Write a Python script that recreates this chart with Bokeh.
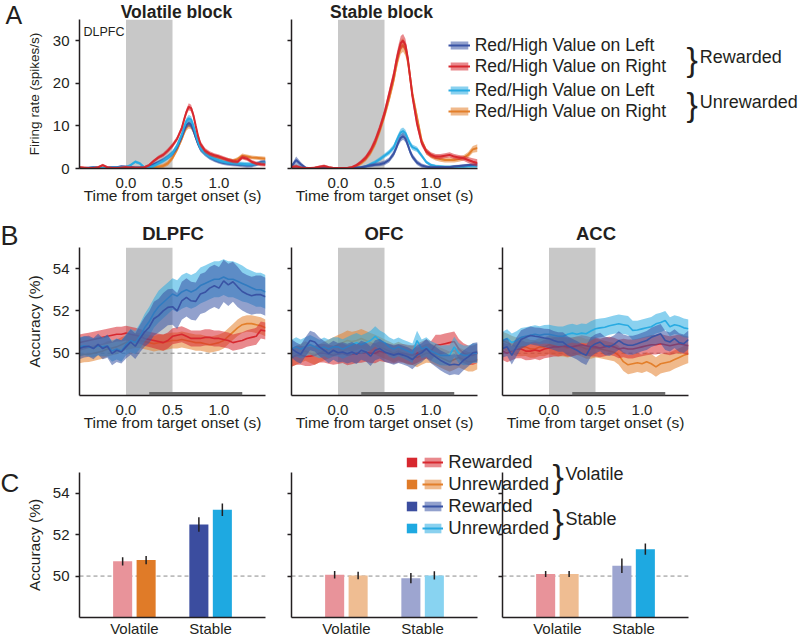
from bokeh.plotting import figure
from bokeh.layouts import row, column
from bokeh.models import (Range1d, FactorRange, ColumnDataSource, Label, Legend,
                          LegendItem, Span, BoxAnnotation, FixedTicker,
                          NumeralTickFormatter)
from bokeh.transform import dodge
from bokeh.embed import file_html
from bokeh.resources import INLINE

# ---------------------------------------------------------------- data
epoch = [0.0, 0.5]          # target epoch (grey band)
sig_window = [0.25, 1.25]   # analysis window (dark bar)
chance = 50

# ---- A: firing rates (spikes/s), DLPFC example neuron
t_a = [-0.5, -0.45, -0.4, -0.35, -0.3, -0.25, -0.2, -0.15, -0.1, -0.05,
       0.0, 0.05, 0.1, 0.15, 0.2, 0.25, 0.3, 0.35, 0.4, 0.45,
       0.5, 0.55, 0.6, 0.625, 0.65, 0.675, 0.7, 0.725, 0.75, 0.775,
       0.8, 0.85, 0.9, 0.95, 1.0, 1.05, 1.1, 1.15, 1.2, 1.25,
       1.3, 1.35, 1.4, 1.45, 1.5]
vol_rew_left = [0.1, 0.1, 0.2, 0.3, 0.2, 0.1, 0.2, 0.3, 0.3, 0.5,
                0.4, 0.3, 0.2, 0.2, 0.3, 0.5, 1.0, 1.5, 2.0, 2.7,
                3.5, 5.0, 7.5, 9.0, 10.2, 10.7, 10.3, 9.0, 7.3, 5.8,
                4.6, 3.5, 2.6, 2.0, 1.6, 1.3, 1.1, 1.0, 0.9, 0.8,
                0.7, 0.7, 1.0, 1.5, 1.6]
vol_rew_right = [0.3, 0.2, 0.1, 0.1, 0.3, 0.8, 0.3, 0.1, 0.1, 0.2,
                 0.3, 0.2, 0.1, 0.1, 0.3, 0.8, 1.8, 2.6, 3.2, 4.2,
                 5.4, 7.0, 9.5, 11.5, 13.3, 14.5, 14.2, 12.5, 10.0, 7.6,
                 5.8, 4.2, 3.5, 3.1, 2.8, 2.4, 2.0, 1.7, 1.6, 2.6,
                 2.3, 1.6, 1.2, 1.0, 0.9]
vol_unrew_left = [0.1, 0.1, 0.1, 0.2, 0.2, 0.1, 0.1, 0.2, 0.2, 0.3,
                  0.3, 0.8, 1.6, 1.2, 0.2, 0.2, 0.6, 1.2, 1.8, 2.6,
                  3.6, 5.4, 8.0, 9.8, 11.2, 11.8, 11.5, 10.0, 8.0, 6.2,
                  4.8, 3.6, 2.8, 2.3, 1.9, 1.6, 1.4, 1.3, 1.2, 1.1,
                  1.0, 1.0, 1.1, 1.2, 1.3]
vol_unrew_right = [0.2, 0.1, 0.1, 0.1, 0.1, 0.2, 0.1, 0.1, 0.1, 0.1,
                   0.1, 0.1, 0.1, 0.1, 0.1, 0.2, 0.3, 0.4, 0.6, 1.2,
                   2.5, 4.5, 7.0, 8.5, 9.7, 10.2, 10.0, 9.0, 7.5, 6.0,
                   4.8, 3.8, 3.2, 2.8, 2.5, 2.2, 2.0, 1.8, 2.2, 3.0,
                   2.8, 2.6, 2.5, 2.4, 2.3]
stb_rew_left = [0.5, 2.0, 1.0, 0.2, 0.1, 0.1, 0.1, 0.1, 0.1, 0.1,
                0.1, 0.1, 0.1, 0.1, 0.2, 0.3, 0.5, 0.7, 0.9, 1.0,
                1.3, 2.0, 3.5, 4.8, 6.2, 7.2, 7.6, 7.0, 5.6, 4.0,
                2.8, 1.4, 0.7, 0.4, 0.3, 0.3, 0.3, 0.3, 0.3, 0.5,
                0.6, 0.7, 0.8, 0.9, 1.0]
stb_rew_right = [0.3, 0.5, 0.2, 0.1, 0.1, 0.2, 0.4, 0.6, 0.3, 0.1,
                 0.1, 0.1, 0.1, 0.3, 0.8, 1.6, 2.6, 4.2, 6.5, 9.5,
                 13.0, 17.5, 22.0, 25.0, 27.5, 29.5, 30.0, 29.0, 26.0, 21.5,
                 17.0, 10.5, 6.0, 4.0, 3.2, 2.8, 2.8, 3.0, 3.2, 2.8,
                 2.6, 2.4, 2.0, 1.6, 1.3]
stb_unrew_left = [0.2, 0.3, 0.2, 0.1, 0.1, 0.1, 0.1, 0.1, 0.1, 0.1,
                  0.1, 0.1, 0.1, 0.1, 0.1, 0.2, 0.5, 1.0, 1.5, 2.2,
                  3.0, 3.8, 5.0, 6.3, 7.5, 8.5, 8.8, 8.3, 7.0, 5.8,
                  5.0, 4.5, 3.0, 1.5, 0.8, 0.6, 0.5, 0.4, 0.4, 0.4,
                  0.4, 0.4, 0.5, 0.5, 0.5]
stb_unrew_right = [0.2, 0.3, 0.2, 0.1, 0.1, 0.1, 0.2, 0.2, 0.1, 0.1,
                   0.1, 0.1, 0.1, 0.2, 0.6, 1.3, 2.3, 3.8, 6.0, 9.0,
                   12.5, 16.5, 21.0, 24.0, 26.5, 28.5, 29.0, 28.0, 25.5, 21.5,
                   17.5, 12.0, 6.5, 4.0, 3.0, 2.5, 2.2, 2.0, 2.0, 2.0,
                   2.2, 2.5, 3.2, 4.5, 4.8]
sem_a_vol = [0.25, 0.25, 0.2, 0.2, 0.25, 0.3, 0.25, 0.2, 0.2, 0.25,
             0.3, 0.3, 0.35, 0.35, 0.3, 0.35, 0.4, 0.45, 0.5, 0.55,
             0.6, 0.6, 0.65, 0.7, 0.75, 0.8, 0.8, 0.8, 0.75, 0.7,
             0.65, 0.6, 0.55, 0.5, 0.5, 0.45, 0.45, 0.45, 0.45, 0.5,
             0.5, 0.45, 0.45, 0.45, 0.45]
sem_a_stb_right = [0.3, 0.5, 0.35, 0.25, 0.25, 0.25, 0.3, 0.35, 0.3, 0.25,
                   0.25, 0.25, 0.25, 0.3, 0.35, 0.45, 0.6, 0.75, 0.9, 1.0,
                   1.1, 1.2, 1.3, 1.4, 1.5, 1.6, 1.6, 1.5, 1.4, 1.3,
                   1.2, 1.0, 0.8, 0.7, 0.6, 0.6, 0.6, 0.6, 0.6, 0.6,
                   0.6, 0.6, 0.7, 0.8, 0.9]
sem_a_stb_left = [0.3, 0.8, 0.5, 0.25, 0.2, 0.2, 0.2, 0.2, 0.2, 0.2,
                  0.2, 0.2, 0.2, 0.25, 0.25, 0.3, 0.35, 0.4, 0.45, 0.5,
                  0.55, 0.6, 0.7, 0.75, 0.8, 0.85, 0.85, 0.8, 0.75, 0.7,
                  0.65, 0.6, 0.5, 0.4, 0.35, 0.3, 0.3, 0.3, 0.3, 0.3,
                  0.3, 0.3, 0.3, 0.3, 0.3]

# ---- B: decoding accuracy (%) over time
t_b = [-0.5, -0.45, -0.4, -0.35, -0.3, -0.25, -0.2, -0.15, -0.1, -0.05,
       0.0, 0.05, 0.1, 0.15, 0.2, 0.25, 0.3, 0.35, 0.4, 0.45,
       0.5, 0.55, 0.6, 0.65, 0.7, 0.75, 0.8, 0.85, 0.9, 0.95,
       1.0, 1.05, 1.1, 1.15, 1.2, 1.25, 1.3, 1.35, 1.4, 1.45, 1.5]
dl_stb_rew = [50.22, 50.30, 50.33, 50.22, 50.42, 50.22, 50.33, 49.98, 50.14, 50.06,
              50.30, 50.53, 50.33, 50.69, 51.00, 51.23, 51.63, 51.78, 52.00, 52.17,
              52.20, 52.00, 52.48, 52.64, 52.48, 52.45, 52.80, 52.88, 53.08, 53.19,
              53.08, 53.42, 53.23, 53.38, 53.14, 52.92, 52.80, 52.72, 52.77, 52.77,
              52.67]
dl_stb_unrew = [50.3, 50.35, 50.3, 50.25, 50.35, 50.3, 50.35, 50.1, 50.2, 50.1,
                50.4, 50.6, 50.5, 50.8, 51.2, 51.5, 51.9, 52.2, 52.4, 52.6,
                52.8, 52.7, 52.9, 53.0, 52.9, 53.0, 53.2, 53.3, 53.4, 53.5,
                53.5, 53.6, 53.5, 53.5, 53.4, 53.3, 53.2, 53.1, 53.0, 53.0,
                52.9]
dl_vol_rew = [50.5, 50.55, 50.6, 50.65, 50.7, 50.75, 50.8, 50.85, 50.9, 50.9,
              50.95, 50.9, 50.85, 50.8, 50.7, 50.65, 50.6, 50.55, 50.5, 50.6,
              50.8, 50.85, 50.9, 50.8, 50.7, 50.7, 50.7, 50.75, 50.75, 50.7,
              50.7, 50.65, 50.6, 50.5, 50.55, 50.6, 50.7, 50.75, 50.8, 51.1,
              51.05]
dl_vol_unrew = [49.9, 49.95, 49.95, 50.0, 50.05, 50.1, 50.2, 50.25, 50.3, 50.4,
                50.5, 50.55, 50.6, 50.6, 50.55, 50.5, 50.45, 50.5, 50.5, 50.55,
                50.6, 50.6, 50.65, 50.6, 50.55, 50.5, 50.5, 50.45, 50.4, 50.45,
                50.5, 50.6, 50.8, 51.0, 51.2, 51.35, 51.4, 51.4, 51.35, 51.3,
                51.2]
sem_dl_stb_rew = [0.5, 0.5, 0.5, 0.5, 0.5, 0.5, 0.55, 0.55, 0.55, 0.55,
                  0.55, 0.6, 0.6, 0.65, 0.7, 0.75, 0.8, 0.8, 0.85, 0.85,
                  0.85, 0.85, 0.9, 0.9, 0.9, 0.9, 0.95, 0.95, 1.0, 1.0,
                  1.0, 1.0, 1.0, 0.95, 0.95, 0.9, 0.9, 0.9, 0.9, 0.9, 0.9]
sem_dl_stb_unrew = [0.45, 0.45, 0.45, 0.45, 0.45, 0.45, 0.5, 0.5, 0.5, 0.5,
                    0.5, 0.55, 0.55, 0.6, 0.65, 0.7, 0.7, 0.75, 0.75, 0.75,
                    0.75, 0.75, 0.8, 0.8, 0.8, 0.8, 0.85, 0.85, 0.85, 0.85,
                    0.85, 0.85, 0.85, 0.85, 0.85, 0.85, 0.8, 0.8, 0.8, 0.8, 0.8]
sem_dl_vol = [0.38, 0.38, 0.37, 0.37, 0.36, 0.36, 0.36, 0.35, 0.35, 0.35,
              0.35, 0.35, 0.35, 0.35, 0.36, 0.36, 0.37, 0.37, 0.38, 0.38,
              0.38, 0.38, 0.38, 0.38, 0.38, 0.38, 0.38, 0.38, 0.38, 0.38,
              0.38, 0.38, 0.38, 0.38, 0.39, 0.39, 0.39, 0.4, 0.4, 0.4, 0.4]

ofc_stb_rew = [50.22, 50.06, 49.95, 50.3, 50.6, 50.53, 50.3, 50.14, 49.98, 50.14,
               50.02, 50.06, 49.98, 50.06, 49.95, 50.14, 50.06, 49.86, 50.14, 50.22,
               50.06, 49.98, 49.91, 49.98, 49.91, 49.83, 49.7, 49.91, 50.02, 50.22,
               49.98, 49.83, 49.67, 49.55, 49.44, 49.48, 49.44, 49.67, 49.83, 50.02,
               50.06]
ofc_stb_unrew = [50.2, 50.3, 50.2, 50.3, 50.4, 50.3, 50.2, 50.3, 50.2, 50.3,
                 50.3, 50.2, 50.3, 50.4, 50.5, 50.4, 50.5, 50.6, 50.8, 50.6,
                 50.5, 50.3, 50.2, 50.3, 50.2, 50.1, 50.0, 50.6, 50.2, 50.3,
                 50.1, 50.0, 49.9, 49.9, 49.9, 50.3, 50.0, 49.9, 49.9, 50.0,
                 50.0]
ofc_vol_rew = [49.8, 49.9, 49.9, 49.85, 49.86, 49.9, 50.0, 50.0, 49.95, 49.9,
               49.95, 50.0, 49.9, 49.95, 50.0, 50.0, 50.05, 50.0, 50.0, 50.1,
               50.05, 50.0, 49.95, 50.0, 50.0, 49.95, 49.9, 50.0, 50.1, 50.2,
               50.1, 50.4, 50.4, 50.45, 50.5, 50.55, 50.2, 50.0, 49.9, 49.9,
               50.0]
ofc_vol_unrew = [49.8, 49.9, 50.0, 50.1, 50.0, 49.9, 50.0, 50.1, 50.2, 50.3,
                 50.4, 50.5, 50.6, 50.55, 50.6, 50.7, 50.6, 50.5, 50.4, 50.3,
                 50.2, 50.1, 50.0, 50.1, 50.0, 49.9, 49.9, 49.8, 49.9, 50.0,
                 50.0, 49.9, 49.8, 49.7, 49.6, 49.7, 49.8, 49.7, 49.6, 49.6,
                 49.7]
sem_ofc = [0.44, 0.45, 0.45, 0.46, 0.46, 0.45, 0.44, 0.44, 0.45, 0.45,
           0.46, 0.46, 0.47, 0.47, 0.46, 0.45, 0.45, 0.46, 0.47, 0.47,
           0.46, 0.45, 0.45, 0.44, 0.44, 0.45, 0.46, 0.46, 0.45, 0.45,
           0.46, 0.47, 0.47, 0.48, 0.48, 0.48, 0.47, 0.47, 0.46, 0.46, 0.46]

acc_stb_rew = [50.22, 50.3, 49.9, 50.3, 50.65, 50.75, 50.84, 50.8, 50.77, 50.72,
               50.69, 50.6, 50.53, 50.53, 50.35, 50.25, 50.14, 50.0, 49.9, 50.3,
               50.45, 50.53, 50.35, 50.3, 50.42, 50.6, 50.45, 50.38, 50.38, 50.45,
               50.53, 50.6, 50.75, 50.84, 50.92, 50.6, 50.53, 50.69, 50.5, 50.45,
               50.64]
acc_stb_unrew = [50.6, 50.7, 50.5, 50.6, 50.75, 50.8, 50.85, 50.9, 50.85, 50.9,
                 50.9, 50.85, 50.8, 50.8, 50.9, 50.95, 50.9, 50.95, 50.92, 51.05,
                 51.16, 51.2, 51.23, 51.3, 51.35, 51.39, 51.35, 51.31, 51.08, 51.1,
                 51.15, 51.2, 51.25, 51.39, 51.45, 51.55, 51.25, 51.35, 51.3, 51.2,
                 51.16]
acc_vol_rew = [50.1, 50.0, 50.1, 50.2, 50.2, 50.1, 50.1, 50.15, 50.1, 50.2,
               50.25, 50.3, 50.3, 50.35, 50.3, 50.3, 50.35, 50.4, 50.35, 50.3,
               50.3, 50.25, 50.3, 50.35, 50.3, 50.2, 50.25, 50.2, 50.2, 50.25,
               50.3, 50.35, 50.4, 50.4, 50.45, 50.4, 50.35, 50.4, 50.45, 50.4,
               50.35]
acc_vol_unrew = [50.6, 50.5, 50.4, 50.3, 50.3, 50.3, 50.2, 50.2, 50.3, 50.3,
                 50.4, 50.35, 50.3, 50.3, 50.25, 50.3, 50.35, 50.3, 50.2, 50.2,
                 50.25, 50.2, 50.15, 50.1, 50.05, 49.9, 49.6, 49.45, 49.5, 49.55,
                 49.5, 49.6, 49.5, 49.35, 49.5, 49.55, 49.6, 49.7, 49.8, 49.9,
                 49.98]
sem_acc = [0.42, 0.43, 0.43, 0.44, 0.44, 0.43, 0.42, 0.42, 0.43, 0.44,
           0.45, 0.45, 0.46, 0.46, 0.45, 0.44, 0.44, 0.45, 0.46, 0.46,
           0.45, 0.44, 0.44, 0.43, 0.43, 0.44, 0.44, 0.45, 0.45, 0.44,
           0.44, 0.45, 0.46, 0.46, 0.46, 0.45, 0.45, 0.44, 0.44, 0.44, 0.44]

# ---- C: mean accuracy (%) in the analysis window
blocks = ["Volatile", "Stable"]
dl_rew_mean, dl_rew_sem = [50.71, 52.49], [0.2, 0.35]
dl_unrew_mean, dl_unrew_sem = [50.77, 53.2], [0.2, 0.3]
ofc_rew_mean, ofc_rew_sem = [50.06, 49.9], [0.18, 0.25]
ofc_unrew_mean, ofc_unrew_sem = [50.03, 50.03], [0.18, 0.2]
acc_rew_mean, acc_rew_sem = [50.1, 50.5], [0.15, 0.35]
acc_unrew_mean, acc_unrew_sem = [50.1, 51.3], [0.15, 0.27]

# ---------------------------------------------------------------- style
FONT = "Liberation Sans"
INK = "#231f20"
BLUE, RED, CYAN, ORANGE = "#3953a4", "#d7282f", "#29abe2", "#e37f2b"
SHADE = "#c8c8c8"
BAND_ALPHA = 0.55
PINK, ORANGE_D, ORANGE_L = "#e8939a", "#e07b28", "#efbd92"
BLUE_D, BLUE_L, CYAN_D, CYAN_L = "#3b4d9f", "#9da5d0", "#1ea9e1", "#88d3f1"
W, H = 800, 639


def base_fig(w, h, bl, br, bt, bb, xr, yr, **kw):
    p = figure(width=w, height=h, x_range=xr, y_range=yr, output_backend="svg",
               toolbar_location=None, min_border_left=bl, min_border_right=br,
               min_border_top=bt, min_border_bottom=bb, **kw)
    p.outline_line_color = None
    p.xgrid.visible = False
    p.ygrid.visible = False
    for ax in p.axis:
        ax.axis_line_color = INK
        ax.axis_line_width = 1.5
        ax.major_tick_line_color = INK
        ax.major_tick_line_width = 1.5
        ax.major_tick_in = 0
        ax.major_tick_out = 4
        ax.minor_tick_line_color = None
        ax.major_label_text_font = FONT
        ax.major_label_text_font_size = "15px"
        ax.major_label_text_color = INK
        ax.major_label_standoff = 6
        ax.axis_label_text_font = FONT
        ax.axis_label_text_font_style = "normal"
        ax.axis_label_text_color = INK
    p.xaxis.major_tick_out = 0
    p.xaxis.major_tick_line_color = None
    return p


def hide_ylabels(p):
    p.yaxis.major_label_text_font_size = "0px"
    p.yaxis.major_label_text_color = None
    p.yaxis.major_label_standoff = 0


def ylabel(p, text, size, standoff):
    p.yaxis.axis_label = text
    p.yaxis.axis_label_text_font_size = size
    p.yaxis.axis_label_standoff = standoff


def time_axis(p, yticks):
    p.xaxis.ticker = FixedTicker(ticks=[0.0, 0.5, 1.0])
    p.xaxis.formatter = NumeralTickFormatter(format="0.0")
    p.xaxis.major_label_standoff = 9
    p.xaxis.axis_label = "Time from target onset (s)"
    p.xaxis.axis_label_text_font_size = "15.5px"
    p.xaxis.axis_label_standoff = -4
    p.yaxis.ticker = FixedTicker(ticks=yticks)
    p.add_layout(BoxAnnotation(left=epoch[0], right=epoch[1], fill_color=SHADE,
                               fill_alpha=1, line_color=None, level="underlay"))


def series(p, t, mean, sem, color, lw):
    src = ColumnDataSource(dict(t=t, m=mean,
                                lo=[m - s for m, s in zip(mean, sem)],
                                hi=[m + s for m, s in zip(mean, sem)]))
    p.varea(x="t", y1="lo", y2="hi", source=src, fill_color=color,
            fill_alpha=BAND_ALPHA)
    p.line(x="t", y="m", source=src, line_color=color, line_width=lw)


# ---------------------------------------------------------------- row A
a1 = base_fig(270, 209, 79, 5, 19, 41, Range1d(-0.5, 1.5), Range1d(0, 35))
a2 = base_fig(530, 209, 21, 323, 19, 41, Range1d(-0.5, 1.5), Range1d(0, 35))
for p in (a1, a2):
    time_axis(p, [0, 10, 20, 30])
ylabel(a1, "Firing rate (spikes/s)", "13.5px", 8)
hide_ylabels(a2)

series(a1, t_a, vol_unrew_right, sem_a_vol, ORANGE, 2)
series(a1, t_a, vol_rew_left, sem_a_vol, BLUE, 2)
series(a1, t_a, vol_unrew_left, sem_a_vol, CYAN, 2)
series(a1, t_a, vol_rew_right, sem_a_vol, RED, 2)

series(a2, t_a, stb_unrew_right, sem_a_stb_right, ORANGE, 2)
series(a2, t_a, stb_unrew_left, sem_a_stb_left, CYAN, 2)
series(a2, t_a, stb_rew_left, sem_a_stb_left, BLUE, 2)
series(a2, t_a, stb_rew_right, sem_a_stb_right, RED, 2)

# ---------------------------------------------------------------- row B


def b_panel(w, bl, br, data):
    p = base_fig(w, 227, bl, br, 38, 41, Range1d(-0.5, 1.5), Range1d(48, 55))
    time_axis(p, [50, 52, 54])
    p.add_layout(Span(location=chance, dimension="width", line_color="#8a8a8a",
                      line_dash="4 3", line_width=1, level="underlay"))
    p.add_layout(BoxAnnotation(left=sig_window[0], right=sig_window[1], bottom=48,
                               top=48.16, fill_color="#6b6b6b", fill_alpha=1,
                               line_color=None))
    for mean, sem, color in data:
        series(p, t_b, mean, sem, color, 1.6)
    return p


b1 = b_panel(270, 79, 5,
             [(dl_vol_unrew, sem_dl_vol, ORANGE), (dl_vol_rew, sem_dl_vol, RED),
              (dl_stb_unrew, sem_dl_stb_unrew, CYAN), (dl_stb_rew, sem_dl_stb_rew, BLUE)])
b2 = b_panel(219, 21, 12,
             [(ofc_vol_unrew, sem_ofc, ORANGE), (ofc_vol_rew, sem_ofc, RED),
              (ofc_stb_unrew, sem_ofc, CYAN), (ofc_stb_rew, sem_ofc, BLUE)])
b3 = b_panel(311, 13, 112,
             [(acc_vol_unrew, sem_acc, ORANGE), (acc_vol_rew, sem_acc, RED),
              (acc_stb_unrew, sem_acc, CYAN), (acc_stb_rew, sem_acc, BLUE)])
ylabel(b1, "Accuracy (%)", "15.5px", 7)
hide_ylabels(b2)
hide_ylabels(b3)

# ---------------------------------------------------------------- row C
OFF = 0.154
BW = 0.25


def c_panel(w, bl, br, rew, rew_sem, unrew, unrew_sem, rew_colors, unrew_colors):
    xr = FactorRange(factors=blocks, range_padding=0.22,
                     range_padding_units="absolute", factor_padding=0)
    p = base_fig(w, 203, bl, br, 36, 20, xr, Range1d(48, 55))
    p.xaxis.major_label_standoff = 2
    p.yaxis.ticker = FixedTicker(ticks=[50, 52, 54])
    p.add_layout(Span(location=chance, dimension="width", line_color="#8a8a8a",
                      line_dash="4 3", line_width=1, level="underlay"))
    src = ColumnDataSource(dict(
        block=blocks, rew=rew, unrew=unrew,
        rew_lo=[m - s for m, s in zip(rew, rew_sem)],
        rew_hi=[m + s for m, s in zip(rew, rew_sem)],
        unrew_lo=[m - s for m, s in zip(unrew, unrew_sem)],
        unrew_hi=[m + s for m, s in zip(unrew, unrew_sem)],
        rew_color=rew_colors, unrew_color=unrew_colors))
    for key, off in (("rew", -OFF), ("unrew", OFF)):
        xs = dodge("block", off, range=xr)
        p.vbar(x=xs, top=key, bottom=48, width=BW, source=src,
               fill_color=key + "_color", line_color=None)
        p.segment(x0=xs, y0=key + "_lo", x1=xs, y1=key + "_hi", source=src,
                  line_color=INK, line_width=1.5)
    return p


c1 = c_panel(270, 79, 5, dl_rew_mean, dl_rew_sem, dl_unrew_mean, dl_unrew_sem,
             [PINK, BLUE_D], [ORANGE_D, CYAN_D])
c2 = c_panel(219, 21, 12, ofc_rew_mean, ofc_rew_sem, ofc_unrew_mean, ofc_unrew_sem,
             [PINK, BLUE_L], [ORANGE_L, CYAN_L])
c3 = c_panel(311, 13, 112, acc_rew_mean, acc_rew_sem, acc_unrew_mean, acc_unrew_sem,
             [PINK, BLUE_L], [ORANGE_L, CYAN_D])
ylabel(c1, "Accuracy (%)", "15.5px", 7)
hide_ylabels(c2)
hide_ylabels(c3)

# ---------------------------------------------------------------- overlay for
# panel letters, titles, legends and braces (page pixel coordinates)
ov = figure(width=W, height=H, x_range=Range1d(0, W), y_range=Range1d(H, 0),
            output_backend="svg", toolbar_location=None, min_border=0,
            x_axis_location=None, y_axis_location=None, margin=(-H, 0, 0, 0))
ov.title.visible = False
ov.outline_line_color = None
ov.border_fill_color = None
ov.background_fill_color = None
ov.xgrid.visible = False
ov.ygrid.visible = False


def otext(x, y, s, size, style="normal", align="left"):
    ov.add_layout(Label(x=x, y=y, text=s, text_font=FONT, text_font_size=size,
                        text_font_style=style, text_align=align,
                        text_baseline="middle", text_color=INK))


otext(5, 14, "A", "25px")
otext(176, 11, "Volatile block", "17.5px", "bold", "center")
otext(381, 11, "Stable block", "17.5px", "bold", "center")
otext(83, 31.5, "DLPFC", "12.5px")
otext(0, 235, "B", "27px")
otext(172.5, 233, "DLPFC", "18.5px", "bold", "center")
otext(383.5, 233, "OFC", "18.5px", "bold", "center")
otext(595.5, 233, "ACC", "18.5px", "bold", "center")
otext(0, 482.5, "C", "26px")


def style_legend(lg, gw, gh, lh, size, standoff):
    lg.glyph_width = gw
    lg.glyph_height = gh
    lg.label_height = lh
    lg.label_width = 0
    lg.spacing = 0
    lg.padding = 0
    lg.margin = 0
    lg.label_standoff = standoff
    lg.label_text_font = FONT
    lg.label_text_font_size = size
    lg.label_text_color = INK
    lg.background_fill_alpha = 0
    lg.border_line_alpha = 0


# legend swatches: single degenerate (invisible) entries so the legend has glyphs
def band_line(color):
    va = ov.varea(x=[0], y1=[0], y2=[0], fill_color=color, fill_alpha=BAND_ALPHA)
    ln = ov.line(x=[0], y=[0], line_color=color, line_width=2)
    return [va, ln]


def solid(color):
    return ov.quad(left=[0], right=[0], top=[0], bottom=[0], fill_color=color,
                   line_color=None)


# legend A
a_labels = ["Red/High Value on Left", "Red/High Value on Right"]
lg_a1 = Legend(items=[LegendItem(label=a_labels[0], renderers=band_line(BLUE)),
                      LegendItem(label=a_labels[1], renderers=band_line(RED))],
               location=(447.7, H - 76.7))
lg_a2 = Legend(items=[LegendItem(label=a_labels[0], renderers=band_line(CYAN)),
                      LegendItem(label=a_labels[1], renderers=band_line(ORANGE))],
               location=(447.7, H - 121.7))
for lg in (lg_a1, lg_a2):
    style_legend(lg, 22, 10, 20, "17.5px", 5)
    ov.add_layout(lg)
otext(686, 58.5, "}", "34px")
otext(699.3, 56.7, "Rewarded", "18px")
otext(686, 103.5, "}", "34px")
otext(699.3, 101.7, "Unrewarded", "18px")

# legend C (solid = bar colour, band+line = time course)
c_labels = ["Rewarded", "Unrewarded", "Rewarded", "Unrewarded"]
solid_cols = [RED, ORANGE_D, BLUE_D, CYAN_D]
line_cols = [RED, ORANGE, BLUE, CYAN]
sq_items, ln_items = [], []
for lab, sc, lc in zip(c_labels, solid_cols, line_cols):
    sq_items.append(LegendItem(label=" ", renderers=[solid(sc)]))
    ln_items.append(LegendItem(label=lab, renderers=band_line(lc)))
lg_sq = Legend(items=sq_items, location=(405, H - 539))
lg_ln = Legend(items=ln_items, location=(422.3, H - 539))
style_legend(lg_sq, 13, 12, 22, "18.5px", 0)
style_legend(lg_ln, 21, 12, 22, "18.5px", 5)
ov.add_layout(lg_sq)
ov.add_layout(lg_ln)
otext(552, 475, "}", "34px")
otext(565, 473.3, "Volatile", "18px")
otext(552, 520, "}", "34px")
otext(565, 518.3, "Stable", "18px")

layout = column(row(a1, a2), row(b1, b2, b3), row(c1, c2, c3), ov)

with open("out.html", "w") as f:
    f.write(file_html(layout, INLINE))
